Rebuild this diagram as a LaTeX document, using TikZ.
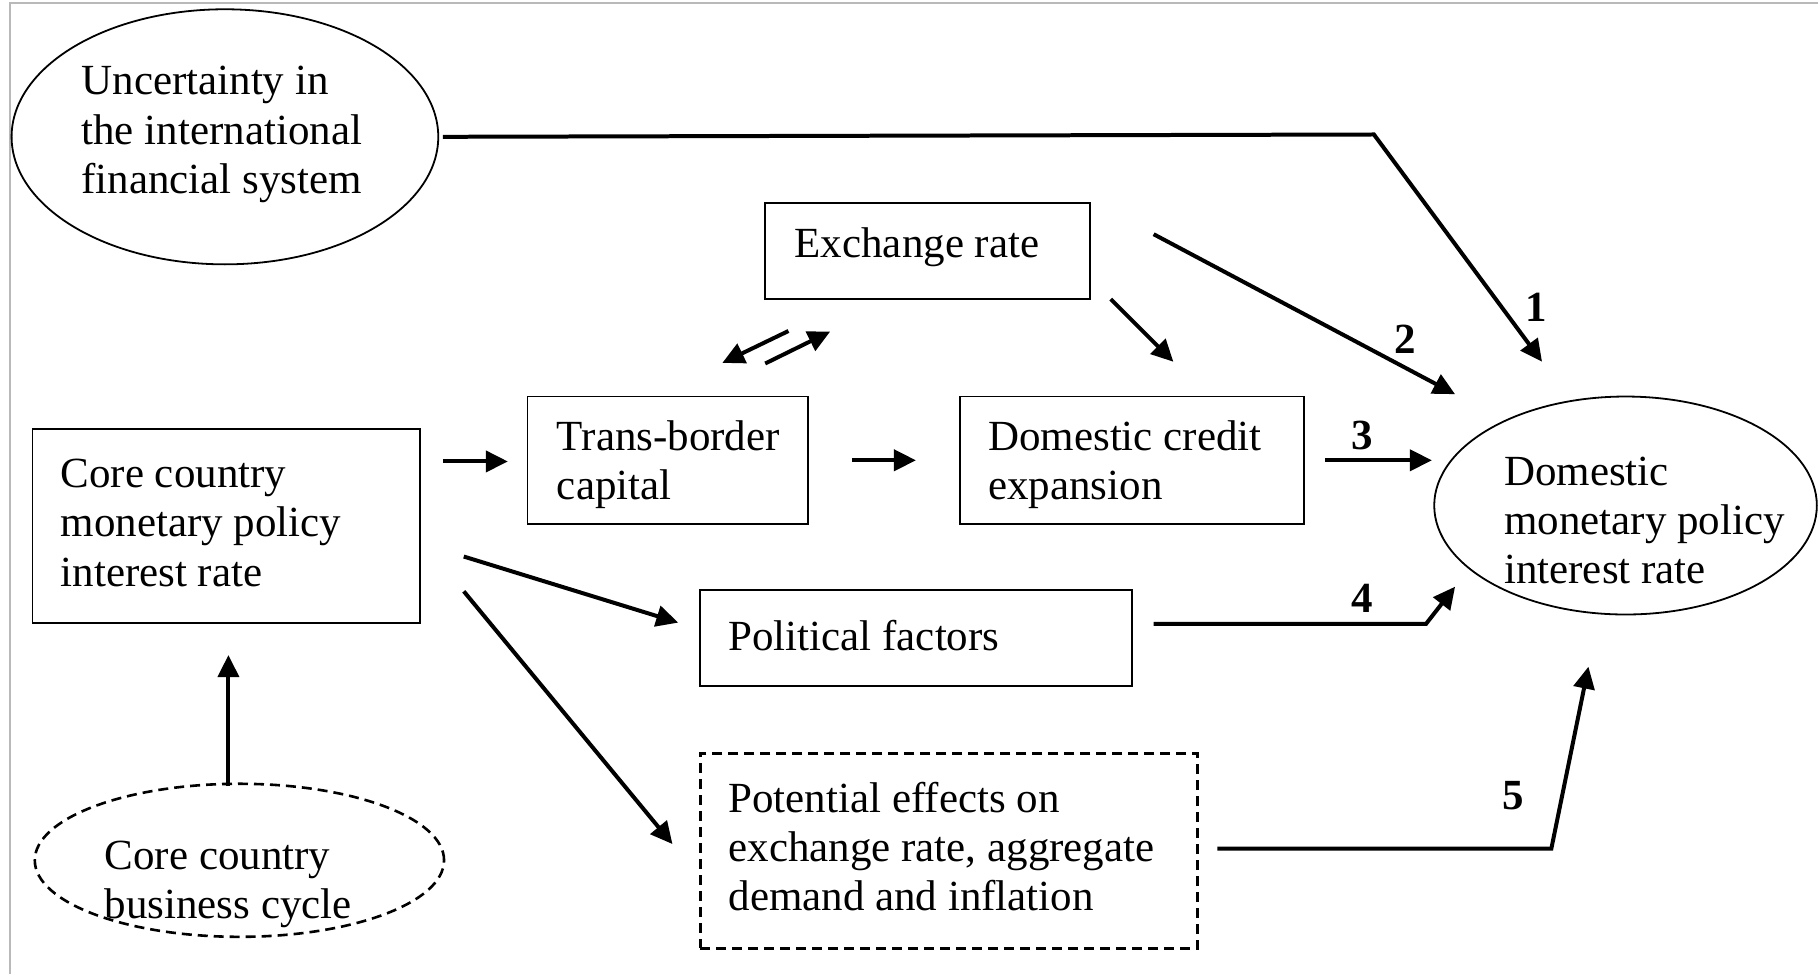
\documentclass[tikz,border=0pt]{standalone}
\usepackage{fontspec}
\setmainfont{Liberation Serif}
\usetikzlibrary{shapes.geometric,arrows.meta}
\newlength\ux
\setlength\ux{0.58pt}
\begin{document}
\begin{tikzpicture}[x=0.58pt,y=-0.58pt,
  every node/.style={font=\fontsize{21.5}{24.65}\selectfont},
  boxnode/.style={draw,line width=0.9pt,rectangle,inner sep=0pt},
  ellnode/.style={draw,line width=0.9pt,ellipse,inner sep=0pt},
  dashbox/.style={draw,line width=1.3pt,dash pattern=on 5pt off 3pt,inner sep=0pt},
  txt/.style={anchor=west,align=left,inner sep=0pt},
  arr/.style={line width=2pt,-{Triangle[length=11pt,width=10.5pt]}},
  num/.style={font=\fontsize{21.5}{24.65}\selectfont\bfseries,inner sep=0pt}]
\useasboundingbox (0,0) rectangle (1568,840);
\draw[gray!55,line width=1pt] (8.6,840) -- (8.6,2.5) -- (1568,2.5);

% shapes
\node[ellnode,minimum width=368\ux,minimum height=220\ux] (unc) at (194,118) {};
\node[boxnode,minimum width=280\ux,minimum height=83\ux] (exr) at (800,216.5) {};
\node[boxnode,minimum width=242\ux,minimum height=110\ux] (tbc) at (576,397) {};
\node[boxnode,minimum width=297\ux,minimum height=110\ux] (dce) at (976.5,397) {};
\node[boxnode,minimum width=334\ux,minimum height=167\ux] (core) at (195,453.5) {};
\node[boxnode,minimum width=372\ux,minimum height=83\ux] (pol) at (790,550.5) {};
\node[dashbox,minimum width=429\ux,minimum height=168\ux] (pot) at (818.5,734) {};
\node[ellnode,minimum width=330\ux,minimum height=188\ux] (dom) at (1402,436) {};
\node[ellnode,dash pattern=on 5pt off 3pt,line width=1.3pt,minimum width=353\ux,minimum height=132\ux] (cyc) at (206.5,742) {};

% texts
\node[txt] (uncT) at (70,116) {Uncertainty in\\the international\\financial system};
\node[txt] (exrT) at (685,213.5) {Exchange rate};
\node[txt] (tbcT) at (480,401) {Trans-border\\capital};
\node[txt] (dceT) at (852,401) {Domestic credit\\expansion};
\node[txt] (coreT) at (52,451) {Core country\\monetary policy\\interest rate};
\node[txt] (polT) at (628,548) {Political factors};
\node[txt] (potT) at (628,730) {Potential effects on\\exchange rate, aggregate\\demand and inflation};
\node[txt] (domT) at (1297,449) {Domestic\\monetary policy\\interest rate};
\node[txt] (cycT) at (90,763) {Core country\\business cycle};

% connector end points
\coordinate (a1s) at (382,118); \coordinate (a1k) at (1185,116); \coordinate (a1e) at (1330,312);
\coordinate (a2s) at (995,202); \coordinate (a2e) at (1255,340);
\coordinate (xcs) at (958,258); \coordinate (xce) at (1012,312);
\coordinate (dAs) at (680,285.5); \coordinate (dAe) at (623,313);
\coordinate (dBs) at (660,313.5); \coordinate (dBe) at (716,286);
\coordinate (cts) at (382,398); \coordinate (cte) at (438,398);
\coordinate (tds) at (735,397); \coordinate (tde) at (790,397);
\coordinate (a3s) at (1143,397); \coordinate (a3e) at (1235,397);
\coordinate (cps) at (400,480); \coordinate (cpe) at (585,537);
\coordinate (cqs) at (400,510); \coordinate (cqe) at (580,728);
\coordinate (a4s) at (995,538); \coordinate (a4k) at (1230,538); \coordinate (a4e) at (1255,506);
\coordinate (a5s) at (1050,732); \coordinate (a5k) at (1338,732); \coordinate (a5e) at (1370,575);
\coordinate (ccs) at (197,678); \coordinate (cce) at (197,565);

% connectors
\draw[arr] (a1s) -- (a1k) -- (a1e);
\draw[arr] (a2s) -- (a2e);
\draw[arr] (xcs) -- (xce);
\draw[arr] (dAs) -- (dAe);
\draw[arr] (dBs) -- (dBe);
\draw[arr] (cts) -- (cte);
\draw[arr] (tds) -- (tde);
\draw[arr] (a3s) -- (a3e);
\draw[arr] (cps) -- (cpe);
\draw[arr] (cqs) -- (cqe);
\draw[arr] (a4s) -- (a4k) -- (a4e);
\draw[arr] (a5s) -- (a5k) -- (a5e);
\draw[arr] (ccs) -- (cce);

% labels
\node[num] (n1) at (1325,265) {1};
\node[num] (n2) at (1212,293) {2};
\node[num] (n3) at (1175,376) {3};
\node[num] (n4) at (1175,516) {4};
\node[num] (n5) at (1305,686) {5};
\end{tikzpicture}
\end{document}
